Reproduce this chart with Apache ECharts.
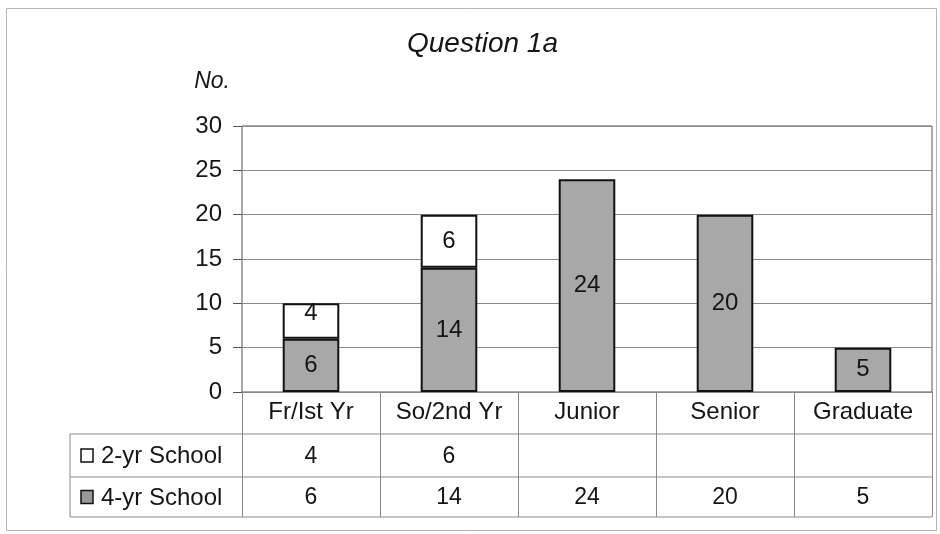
<!DOCTYPE html>
<html>
<head>
<meta charset="utf-8">
<script src="https://cdn.jsdelivr.net/npm/echarts@6/dist/echarts.min.js"></script>
<style>
  html, body { margin: 0; padding: 0; background: #fff; }
  #chart { width: 940px; height: 534px; }
</style>
</head>
<body>
<div id="chart"></div>
<script>
// Categories and counts per school type
const categories = ['Fr/Ist Yr', 'So/2nd Yr', 'Junior', 'Senior', 'Graduate'];
const twoYrSchool = [4, 6, null, null, null];
const fourYrSchool = [6, 14, 24, 20, 5];
const seriesNames = ['2-yr School', '4-yr School'];
const yTicks = { min: 0, max: 30, step: 5 };

const FONT = '"Liberation Sans", Arial, sans-serif';
const GRAY = '#a8a8a8';
const LINE = '#8a8a8a';
const INK = '#151515';

const chart = echarts.init(document.getElementById('chart'), null, { renderer: 'canvas' });

const gridBottom = 142;
const tableDepth = 125; // header + two data rows below the plot

// short top segments get their label nudged up so it clears the segment below
const twoYrData = twoYrSchool.map(v => (v != null && v < 5)
  ? { value: v, label: { offset: [0, -8] } }
  : v);

const option = {
  animation: false,
  backgroundColor: '#fff',
  title: {
    text: 'Question 1a',
    left: 402,
    top: 25,
    textStyle: { fontFamily: FONT, fontStyle: 'italic', fontWeight: 'normal', fontSize: 28, color: INK }
  },
  grid: {
    left: 242, right: 8, top: 126, bottom: gridBottom,
    show: true, borderColor: '#555', borderWidth: 1, backgroundColor: '#fff'
  },
  xAxis: {
    type: 'category',
    data: categories,
    axisLine: { show: false },
    axisTick: { show: true, alignWithLabel: false, interval: 0, length: tableDepth, lineStyle: { color: LINE, width: 1 } },
    axisLabel: { interval: 0, margin: 8, fontFamily: FONT, fontSize: 24, color: INK },
    splitLine: { show: false }
  },
  yAxis: {
    type: 'value',
    min: yTicks.min, max: yTicks.max, interval: yTicks.step,
    name: 'No.',
    nameLocation: 'end',
    nameGap: 33,
    nameTextStyle: { fontFamily: FONT, fontStyle: 'italic', fontSize: 23, color: INK, align: 'right', padding: [0, 12, 0, 0] },
    axisLine: { show: false },
    axisTick: { show: true, length: 9, lineStyle: { color: '#555' } },
    axisLabel: { margin: 20, fontFamily: FONT, fontSize: 24, color: INK },
    splitLine: { show: true, lineStyle: { color: LINE, width: 1 } }
  },
  series: [
    {
      name: seriesNames[1],
      type: 'bar',
      stack: 'school',
      data: fourYrSchool,
      barWidth: '41%',
      itemStyle: { color: GRAY, borderColor: '#111', borderWidth: 2 },
      label: { show: true, position: 'inside', fontFamily: FONT, fontSize: 24, color: INK }
    },
    {
      name: seriesNames[0],
      type: 'bar',
      stack: 'school',
      data: twoYrData,
      barWidth: '41%',
      itemStyle: { color: '#fff', borderColor: '#111', borderWidth: 2 },
      label: { show: true, position: 'inside', fontFamily: FONT, fontSize: 24, color: INK,
        formatter: p => (p.value == null ? '' : p.value) }
    }
  ]
};

chart.setOption(option);

// Data table under the plot, laid out from the category axis positions
function buildTable() {
  const c0 = chart.convertToPixel({ xAxisIndex: 0 }, 0);
  const c1 = chart.convertToPixel({ xAxisIndex: 0 }, 1);
  const band = c1 - c0;
  const plotRight = chart.convertToPixel({ xAxisIndex: 0 }, categories.length - 1) + band / 2;
  const baseY = chart.convertToPixel({ yAxisIndex: 0 }, 0);
  const tableLeft = 70;
  const rowTops = [baseY + 42, baseY + 85, baseY + tableDepth];
  const els = [];

  rowTops.forEach(y => {
    els.push({ type: 'line', shape: { x1: tableLeft, y1: y, x2: plotRight, y2: y },
      style: { stroke: LINE, lineWidth: 1 }, silent: true });
  });
  els.push({ type: 'line', shape: { x1: tableLeft, y1: rowTops[0], x2: tableLeft, y2: rowTops[2] },
    style: { stroke: LINE, lineWidth: 1 }, silent: true });

  const rows = [
    { name: seriesNames[0], values: twoYrSchool, fill: '#fff' },
    { name: seriesNames[1], values: fourYrSchool, fill: '#999' }
  ];
  rows.forEach((row, r) => {
    const cy = (rowTops[r] + rowTops[r + 1]) / 2;
    els.push({ type: 'rect', shape: { x: 81, y: cy - 6.5, width: 12, height: 13 },
      style: { fill: row.fill, stroke: '#111', lineWidth: 1.5 }, silent: true });
    els.push({ type: 'text', x: 101, y: cy + 1,
      style: { text: row.name, fontFamily: FONT, fontSize: 24, fill: INK, verticalAlign: 'middle', align: 'left' }, silent: true });
    row.values.forEach((v, i) => {
      if (v == null) return;
      const cx = chart.convertToPixel({ xAxisIndex: 0 }, i);
      els.push({ type: 'text', x: cx, y: cy + 1,
        style: { text: String(v), fontFamily: FONT, fontSize: 23, fill: INK, align: 'center', verticalAlign: 'middle' }, silent: true });
    });
  });

  // light frame around the whole chart
  els.push({ type: 'rect', shape: { x: 6.5, y: 8.5, width: 930, height: 522 },
    style: { fill: 'none', stroke: '#b5b5b5', lineWidth: 1 }, silent: true, z: -1 });

  chart.setOption({ graphic: { elements: els } });
}
buildTable();
</script>
</body>
</html>
